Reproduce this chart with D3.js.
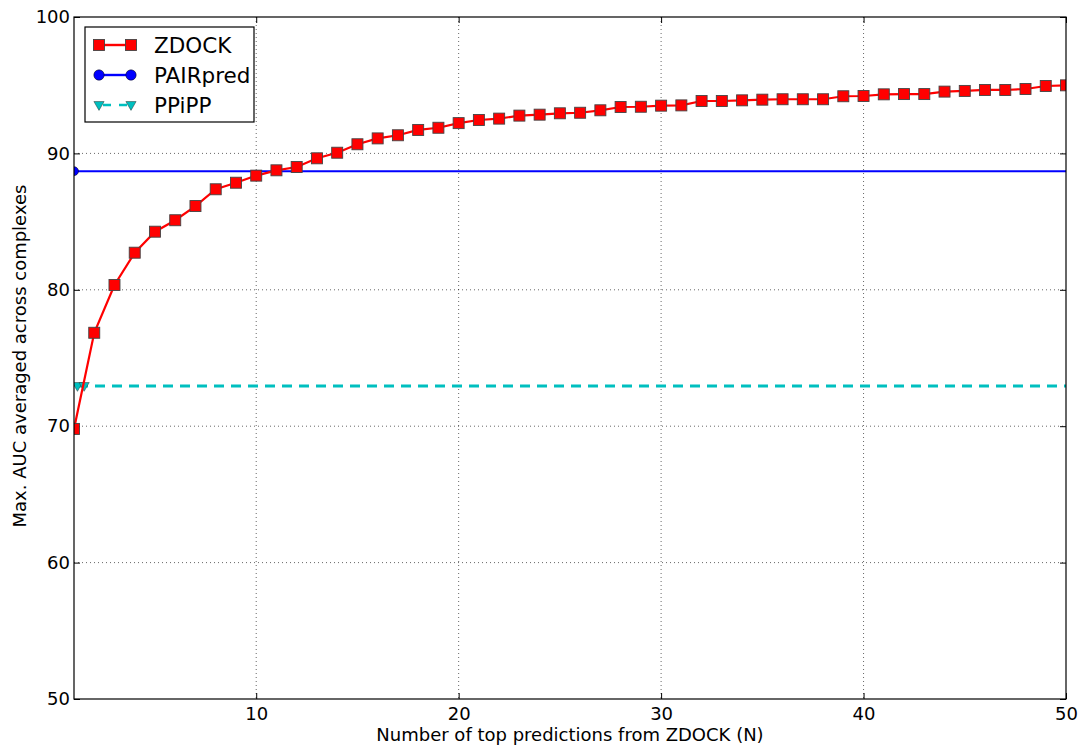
<!DOCTYPE html>
<html>
<head>
<meta charset="utf-8">
<script src="https://cdn.jsdelivr.net/npm/d3@7"></script>
<style>
  body { margin: 0; background: #fff; }
  text { font-family: "DejaVu Sans", sans-serif; fill: #000; }
</style>
</head>
<body>
<svg></svg>
<script>
///////////////////////////////////////////
// Data
var topN = d3.range(1, 51);
var zdockAUC = [69.8, 76.85, 80.35, 82.72, 84.26, 85.1, 86.14, 87.37, 87.85, 88.37,
                88.76, 89.0, 89.64, 90.05, 90.67, 91.1, 91.33, 91.72, 91.88, 92.22,
                92.45, 92.55, 92.77, 92.84, 92.94, 92.98, 93.16, 93.4, 93.42, 93.5,
                93.52, 93.84, 93.84, 93.89, 93.94, 93.97, 93.97, 93.97, 94.19, 94.21,
                94.33, 94.35, 94.35, 94.53, 94.58, 94.65, 94.65, 94.72, 94.94, 94.99];
var pairpredAUC = 88.7;
var ppippAUC = 72.95;
var ppippMarkX = [1.17, 1.5];
var xTicks = [10, 20, 30, 40, 50];
var yTicks = [50, 60, 70, 80, 90, 100];

///////////////////////////////////////////
// Layout
var svgWidth = 1090, svgHeight = 749;
var margin = {top: 17, right: 24, bottom: 50, left: 74},
    width = 1066 - margin.left,
    height = 699 - margin.top;

var svg = d3.select("svg").attr("width", svgWidth).attr("height", svgHeight);
var g = svg.append("g").attr("transform", "translate(" + [margin.left, margin.top] + ")");

var x = d3.scaleLinear().domain([1, 50]).range([0, width]);
var y = d3.scaleLinear().domain([50, 100]).range([height, 0]);

// clip
svg.append("defs").append("clipPath").attr("id", "plotclip")
  .append("rect").attr("width", width).attr("height", height);

// grid
g.append("g").selectAll("line").data(xTicks.filter(function(d){ return d < 50; })).enter().append("line")
  .attr("x1", function(d){ return x(d); }).attr("x2", function(d){ return x(d); })
  .attr("y1", 0).attr("y2", height)
  .attr("stroke", "#000").attr("stroke-width", 0.6).attr("stroke-dasharray", "1,3");
g.append("g").selectAll("line").data(yTicks.filter(function(d){ return d > 50 && d < 100; })).enter().append("line")
  .attr("y1", function(d){ return y(d); }).attr("y2", function(d){ return y(d); })
  .attr("x1", 0).attr("x2", width)
  .attr("stroke", "#000").attr("stroke-width", 0.6).attr("stroke-dasharray", "1,3");

// axes (inward ticks)
var xAxis = g.append("g").attr("transform", "translate(0," + height + ")")
  .call(d3.axisBottom(x).tickValues(xTicks).tickSize(-6).tickPadding(8).tickFormat(d3.format("d")));
var yAxis = g.append("g")
  .call(d3.axisLeft(y).tickValues(yTicks).tickSize(-6).tickPadding(4).tickFormat(d3.format("d")));
g.append("g").attr("transform", "translate(" + width + ",0)")
  .call(d3.axisRight(y).tickValues(yTicks).tickSize(-6).tickFormat(""));
g.append("g")
  .call(d3.axisTop(x).tickValues(xTicks).tickSize(-6).tickFormat(""));
g.selectAll(".domain").remove();
g.selectAll(".tick line").attr("stroke", "#000");
g.selectAll(".tick text").style("font-size", "18px");
xAxis.selectAll(".tick text").attr("dy", "0.71em");

var plot = g.append("g").attr("clip-path", "url(#plotclip)");

// PPiPP dashed
plot.append("line")
  .attr("x1", x(1)).attr("x2", x(50))
  .attr("y1", y(ppippAUC)).attr("y2", y(ppippAUC))
  .attr("stroke", "#00bfbf").attr("stroke-width", 3).attr("stroke-dasharray", "10,7")
  .attr("stroke-dashoffset", -4);
var tri = d3.symbol().type(d3.symbolTriangle).size(45);
plot.selectAll(".ppipp-m").data(ppippMarkX).enter().append("path")
  .attr("d", tri)
  .attr("transform", function(d){ return "translate(" + x(d) + "," + (y(ppippAUC) - 0.5) + ") rotate(180)"; })
  .attr("fill", "#00bfbf").attr("stroke", "#333").attr("stroke-width", 0.5);

// PAIRpred
plot.append("line")
  .attr("x1", x(1)).attr("x2", x(50))
  .attr("y1", y(pairpredAUC)).attr("y2", y(pairpredAUC))
  .attr("stroke", "#0000ff").attr("stroke-width", 2);
plot.append("circle").attr("cx", x(1)).attr("cy", y(pairpredAUC)).attr("r", 4.5)
  .attr("fill", "#0000ff").attr("stroke", "#000").attr("stroke-width", 0.5);

// ZDOCK
var line = d3.line().x(function(d, i){ return x(topN[i]); }).y(function(d){ return y(d); });
plot.append("path").datum(zdockAUC).attr("d", line)
  .attr("fill", "none").attr("stroke", "#ff0000").attr("stroke-width", 2.2);
plot.selectAll(".zd").data(zdockAUC).enter().append("rect")
  .attr("x", function(d, i){ return x(topN[i]) - 5.5; })
  .attr("y", function(d){ return y(d) - 5.5; })
  .attr("width", 11).attr("height", 11)
  .attr("fill", "#ff0000").attr("stroke", "#444").attr("stroke-width", 0.9);

// frame
g.append("rect").attr("width", width).attr("height", height)
  .attr("fill", "none").attr("stroke", "#000").attr("stroke-width", 1.2);

// labels
svg.append("text").attr("x", margin.left + width / 2).attr("y", 741)
  .attr("text-anchor", "middle").style("font-size", "18px")
  .text("Number of top predictions from ZDOCK (N)");
svg.append("text").attr("transform", "translate(26," + (margin.top + height / 2 - 2) + ") rotate(-90)")
  .attr("text-anchor", "middle").style("font-size", "18px")
  .text("Max. AUC averaged across complexes");

///////////////////////////////////////////
// Legend
var legend = svg.append("g").attr("transform", "translate(85,27)");
legend.append("rect").attr("width", 169).attr("height", 95)
  .attr("fill", "#fff").attr("stroke", "#000").attr("stroke-width", 1.2);
var items = [
  {name: "ZDOCK", color: "#ff0000", marker: "square", dash: null},
  {name: "PAIRpred", color: "#0000ff", marker: "circle", dash: null},
  {name: "PPiPP", color: "#00bfbf", marker: "triangle", dash: "8,8"}
];
items.forEach(function(it, i){
  var ly = 18 + i * 30;
  legend.append("line").attr("x1", 14).attr("x2", 46).attr("y1", ly).attr("y2", ly)
    .attr("stroke", it.color).attr("stroke-width", 2.4)
    .attr("stroke-dasharray", it.dash).attr("stroke-dashoffset", it.dash ? -4 : 0);
  [14, 46].forEach(function(mx){
    if (it.marker === "square") {
      legend.append("rect").attr("x", mx - 5.5).attr("y", ly - 5.5).attr("width", 11).attr("height", 11)
        .attr("fill", it.color).attr("stroke", "#444").attr("stroke-width", 0.9);
    } else if (it.marker === "circle") {
      legend.append("circle").attr("cx", mx).attr("cy", ly).attr("r", 5.2)
        .attr("fill", it.color).attr("stroke", "#000").attr("stroke-width", 0.5);
    } else {
      legend.append("path").attr("d", tri)
        .attr("transform", "translate(" + mx + "," + (ly - 0.5) + ") rotate(180)")
        .attr("fill", it.color).attr("stroke", "#333").attr("stroke-width", 0.5);
    }
  });
  legend.append("text").attr("x", 69).attr("y", ly).attr("dy", "0.36em")
    .style("font-size", "21.5px").text(it.name);
});
</script>
</body>
</html>
